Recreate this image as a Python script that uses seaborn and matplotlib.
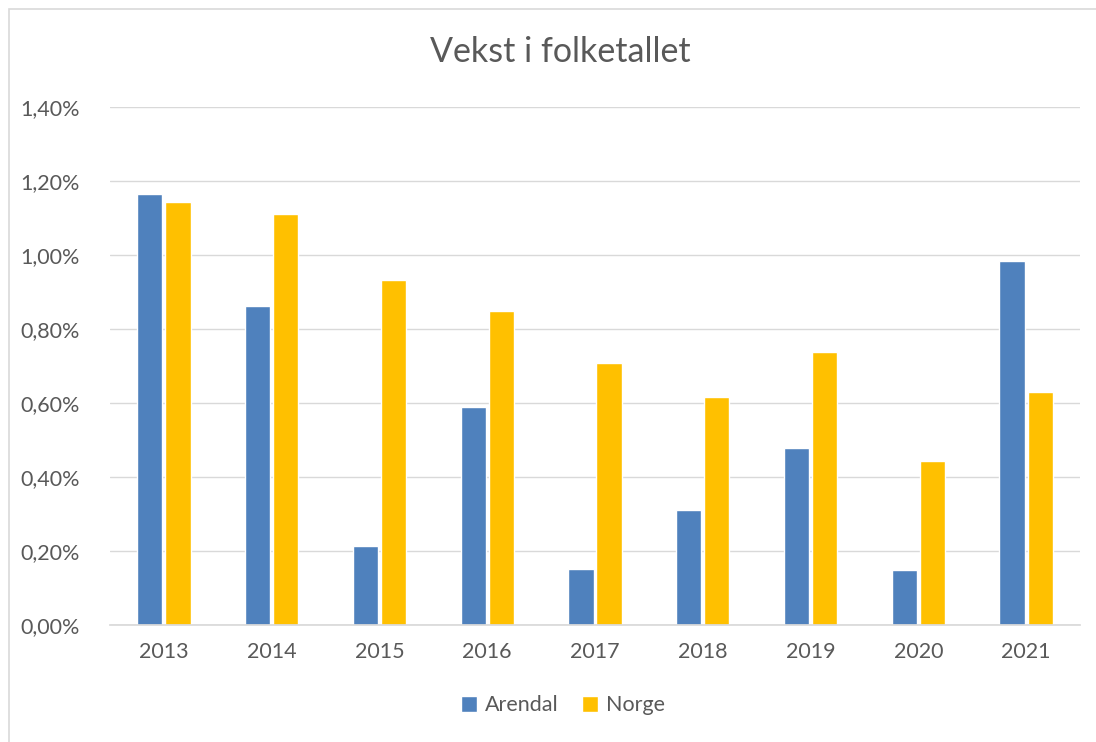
import pandas as pd
import matplotlib.pyplot as plt
import seaborn as sns
from matplotlib.patches import Rectangle
from matplotlib.ticker import FuncFormatter

# Verdier lest av grafen (prosent vekst)
aar = ["2013", "2014", "2015", "2016", "2017", "2018", "2019", "2020", "2021"]
arendal = [1.165, 0.862, 0.213, 0.589, 0.151, 0.311, 0.478, 0.149, 0.984]
norge = [1.143, 1.111, 0.932, 0.849, 0.708, 0.616, 0.738, 0.443, 0.630]

df = pd.DataFrame({"aar": aar * 2,
                   "vekst": arendal + norge,
                   "sted": ["Arendal"] * len(aar) + ["Norge"] * len(aar)})

sns.set_theme(style="white")
plt.rcParams['font.family'] = ['Lato', 'DejaVu Sans']
grå = "#595959"

fig = plt.figure(figsize=(10.96, 7.42), dpi=100)
ax = fig.add_axes([110 / 1096, 1 - 625 / 742, 970 / 1096, 518 / 742])

sns.barplot(data=df, x="aar", y="vekst", hue="sted",
            palette=["#4F81BD", "#FFC000"], width=0.52, gap=0.1,
            saturation=1, ax=ax)

ax.set_ylim(0, 1.4)
ax.set_yticks([0, 0.2, 0.4, 0.6, 0.8, 1.0, 1.2, 1.4])
ax.yaxis.set_major_formatter(FuncFormatter(lambda v, p: f"{v:.2f}%".replace(".", ",")))
ax.grid(axis="y", color="#D9D9D9", linewidth=1)
ax.set_axisbelow(True)
for s in ["top", "right", "left"]:
    ax.spines[s].set_visible(False)
ax.spines["bottom"].set_color("#D9D9D9")
ax.tick_params(axis="both", length=0, labelsize=15.5, colors=grå, pad=12)
ax.tick_params(axis="y", pad=22)
ax.set_xlabel("")
ax.set_ylabel("")

fig.text(0.511, 1 - 52 / 742, "Vekst i folketallet", ha="center", va="center",
         fontsize=24.5, color=grå)

leg = ax.legend(loc="center", bbox_to_anchor=(0.467, -0.155), ncol=2, frameon=False,
                fontsize=15.5, handlelength=0.75, handleheight=0.75,
                handletextpad=0.35, columnspacing=1.1)
for t in leg.get_texts():
    t.set_color(grå)

fig.add_artist(Rectangle((9 / 1096, -0.01), 1.1, 1 - 9 / 742 + 0.01,
                         transform=fig.transFigure, fill=False,
                         edgecolor="#D9D9D9", linewidth=1.2))

fig.savefig("out.png", dpi=100, facecolor="white")
